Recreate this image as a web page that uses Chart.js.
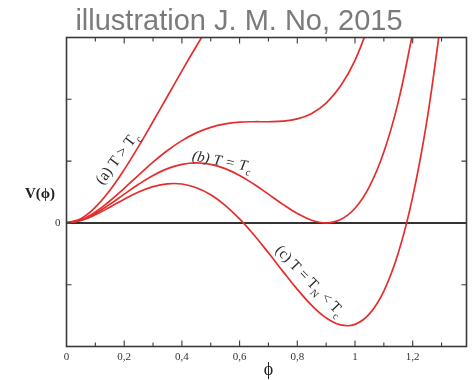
<!DOCTYPE html>
<html>
<head>
<meta charset="utf-8">
<script src="https://cdn.jsdelivr.net/npm/chart.js@4/dist/chart.umd.min.js"></script>
<style>
  html, body { margin: 0; padding: 0; background: #fff; }
  canvas { display: block; }
</style>
</head>
<body>
<canvas id="potential" width="475" height="380"></canvas>
<script>
// Order parameter values (shared grid for all curves)
const phi = [0, 0.05, 0.1, 0.15, 0.2, 0.25, 0.3, 0.35, 0.4, 0.45, 0.5, 0.55, 0.6, 0.65,
             0.7, 0.75, 0.8, 0.85, 0.9, 0.95, 1.0, 1.05, 1.1, 1.15, 1.2, 1.25, 1.3];

// (a) T > Tc : single minimum at the origin
const vHigh = [0, 0.069, 0.254, 0.526, 0.862, 1.239, 1.640, 2.050, 2.459, 2.859, 3.247,
               null, null, null, null, null, null, null, null, null, null, null, null, null, null, null, null];

// intermediate temperature : flat shoulder
const vShoulder = [0, 0.049, 0.176, 0.354, 0.560, 0.775, 0.983, 1.171, 1.331, 1.457, 1.546, 1.602,
                   1.630, 1.637, 1.637, 1.646, 1.684, 1.772, 1.939, 2.214, 2.631, 3.227,
                   null, null, null, null, null];

// (b) T = Tc : two degenerate minima
const vCritical = [0, 0.043, 0.152, 0.300, 0.465, 0.626, 0.768, 0.878, 0.948, 0.972, 0.948, 0.878,
                   0.768, 0.626, 0.465, 0.300, 0.152, 0.043, 0, 0.054, 0.237, 0.588, 1.147, 1.959, 3.070,
                   null, null];

// (c) T = TN < Tc : broken-phase minimum below zero
const vNucleation = [0, 0.038, 0.131, 0.254, 0.383, 0.500, 0.587, 0.633, 0.629, 0.570, 0.455, 0.284,
                     0.064, -0.196, -0.484, -0.784, -1.075, -1.335, -1.537, -1.651, -1.642, -1.473,
                     -1.103, -0.488, 0.421, 1.675, 3.330];

// Axis settings
const xMin = 0, xMax = 1.3865, xStep = 0.1;
const yMin = -2, yMax = 3, yStep = 1;

const SERIF = '"Liberation Serif", "Times New Roman", serif';
const RED = '#e52d2d';

const toPoints = vals => vals.map((v, i) => ({ x: phi[i], y: v }));
const isMajor = v => Math.abs(v * 5 - Math.round(v * 5)) < 1e-6;
const fmt = v => String(Math.round(v * 10) / 10).replace('.', ',');

// Text with subscripts, centred on (cx, cy) and rotated by angle (degrees)
function drawRich(ctx, parts, cx, cy, angle, size, style) {
  ctx.save();
  ctx.translate(cx, cy);
  ctx.rotate(angle * Math.PI / 180);
  const fontFor = p => (style || '') + ' ' + (p.sub ? size * 0.68 : size).toFixed(1) + 'px ' + SERIF;
  let total = 0;
  const widths = parts.map(p => {
    ctx.font = fontFor(p);
    const w = ctx.measureText(p.t).width;
    total += w;
    return w;
  });
  let x = -total / 2;
  ctx.textAlign = 'left';
  ctx.textBaseline = 'alphabetic';
  ctx.fillStyle = '#2a2a2a';
  parts.forEach((p, i) => {
    ctx.font = fontFor(p);
    ctx.fillText(p.t, x, p.sub ? size * 0.62 : size * 0.32);
    x += widths[i];
  });
  ctx.restore();
}

const decorations = {
  id: 'decorations',
  beforeDatasetsDraw(chart) {
    const { ctx, chartArea: a, scales: { y } } = chart;
    const y0 = y.getPixelForValue(0);
    ctx.save();
    ctx.strokeStyle = '#333';
    ctx.lineWidth = 2;
    ctx.beginPath();
    ctx.moveTo(a.left, y0);
    ctx.lineTo(a.right, y0);
    ctx.stroke();
    ctx.restore();
  },
  afterDatasetsDraw(chart) {
    const { ctx, chartArea: a, scales: { x, y } } = chart;
    ctx.save();
    // frame
    ctx.strokeStyle = '#3a3a3a';
    ctx.lineWidth = 1.6;
    ctx.strokeRect(a.left, a.top, a.right - a.left, a.bottom - a.top);
    // inward tick marks on all four sides
    ctx.lineWidth = 1.1;
    ctx.beginPath();
    x.ticks.forEach(t => {
      const px = x.getPixelForValue(t.value);
      if (px <= a.left + 1 || px >= a.right - 1) return;
      const len = isMajor(t.value) ? 6 : 4;
      ctx.moveTo(px, a.bottom); ctx.lineTo(px, a.bottom - len);
      ctx.moveTo(px, a.top); ctx.lineTo(px, a.top + len);
    });
    y.ticks.forEach(t => {
      const py = y.getPixelForValue(t.value);
      if (py <= a.top + 1 || py >= a.bottom - 1) return;
      ctx.moveTo(a.left, py); ctx.lineTo(a.left + 5, py);
      ctx.moveTo(a.right, py); ctx.lineTo(a.right - 5, py);
    });
    ctx.stroke();

    // axis titles
    ctx.fillStyle = '#222';
    ctx.textAlign = 'center';
    ctx.textBaseline = 'middle';
    ctx.font = 'bold 15px ' + SERIF;
    ctx.fillText('V(\u03D5)', 40, 194);
    ctx.font = '18px ' + SERIF;
    ctx.fillText('\u03D5', (a.left + a.right) / 2 + 2, 370);

    // heading
    ctx.fillStyle = '#7b7b7b';
    ctx.font = '29px "Liberation Sans", Arial, sans-serif';
    ctx.textBaseline = 'alphabetic';
    ctx.fillText('illustration J. M. No, 2015', 239, 30);
    ctx.restore();

    // curve annotations
    drawRich(ctx, [{ t: '(a) T > T' }, { t: 'c', sub: true }], 117, 158, -53, 15.5);
    drawRich(ctx, [{ t: '(b) T = T' }, { t: 'c', sub: true }], 222, 161, 11, 15, 'italic');
    drawRich(ctx, [{ t: '(c) T = T' }, { t: 'N', sub: true }, { t: ' < T' }, { t: 'c', sub: true }],
             310, 280.5, 46, 15);
  }
};

const line = (label, vals) => ({
  label,
  data: toPoints(vals),
  borderColor: RED,
  borderWidth: 1.7,
  pointRadius: 0,
  fill: false,
  spanGaps: false,
  tension: 0.4
});

new Chart(document.getElementById('potential'), {
  type: 'line',
  data: {
    datasets: [
      line('(a) T > Tc', vHigh),
      line('shoulder', vShoulder),
      line('(b) T = Tc', vCritical),
      line('(c) T = TN < Tc', vNucleation)
    ]
  },
  options: {
    responsive: false,
    animation: false,
    devicePixelRatio: 1,
    layout: { padding: { top: 37.5, right: 8.5, left: 0, bottom: 0 } },
    plugins: { legend: { display: false }, title: { display: false }, tooltip: { enabled: false } },
    scales: {
      x: {
        type: 'linear',
        min: xMin, max: xMax,
        grid: { display: false, drawTicks: false },
        border: { display: false },
        ticks: {
          stepSize: xStep,
          includeBounds: false,
          autoSkip: false,
          maxRotation: 0,
          padding: 4,
          color: '#333',
          font: { family: SERIF, size: 11 },
          callback: v => isMajor(v) ? fmt(v) : ''
        },
        afterFit: s => { s.height = 33.5; }
      },
      y: {
        type: 'linear',
        min: yMin, max: yMax,
        grid: { display: false, drawTicks: false },
        border: { display: false },
        ticks: {
          stepSize: yStep,
          padding: 6,
          color: '#333',
          font: { family: SERIF, size: 11 },
          callback: v => v === 0 ? '0' : ''
        },
        afterFit: s => { s.width = 66.5; }
      }
    }
  },
  plugins: [decorations]
});
</script>
</body>
</html>
